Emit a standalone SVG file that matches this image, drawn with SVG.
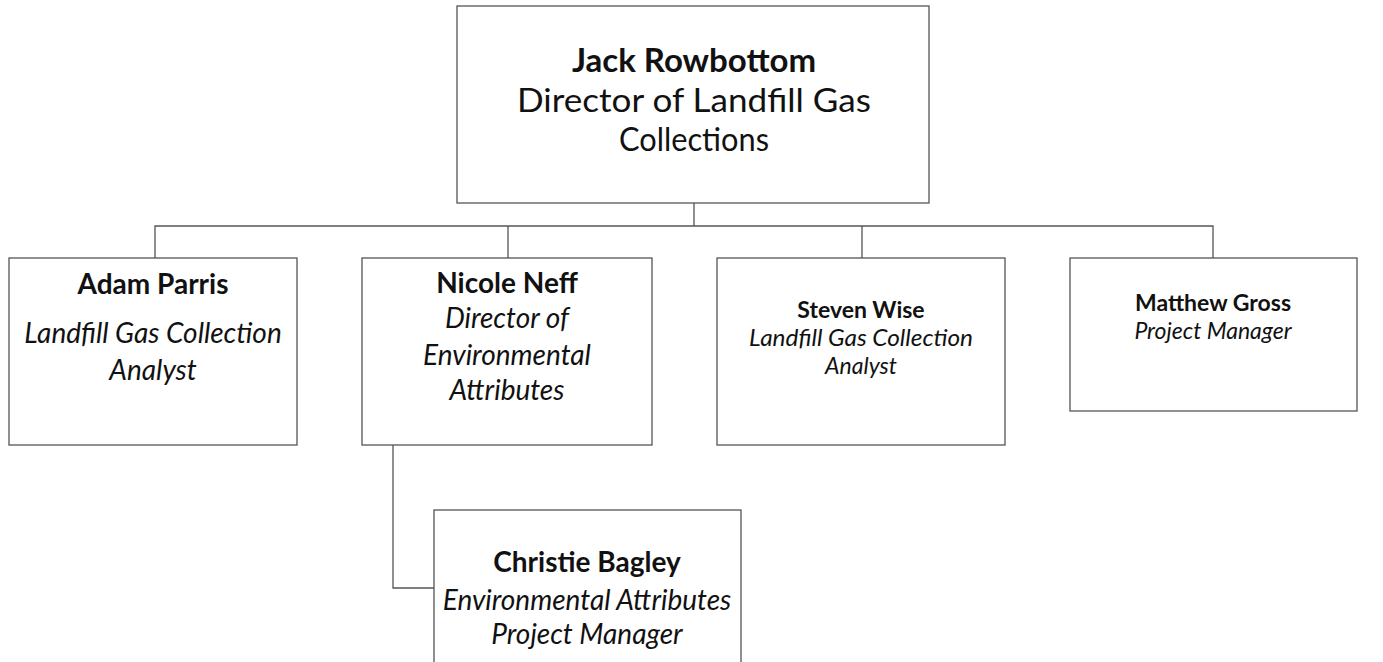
<svg xmlns="http://www.w3.org/2000/svg" width="1383" height="662" viewBox="0 0 1383 662">
<style>
.box{fill:#fff;stroke:#555;stroke-width:1.3}
.conn{fill:none;stroke:#555;stroke-width:1.3}
text{font-family:Lato,"Open Sans","Liberation Sans",sans-serif;fill:#111;text-anchor:middle}
.b{font-weight:bold}
.i{font-style:italic}
.l{font-size:28px}
.s{font-size:23px}
</style>
<rect width="1383" height="662" fill="#fff"/>
<g id="connectors">
<path class="conn" d="M694,203 V226 M155,258 V226 H1213 V258 M508,226 V258 M862,226 V258"/>
<path class="conn" d="M393,445 V588 H434"/>
</g>
<g id="jack">
<rect class="box" x="457" y="6" width="472" height="197"/>
<text x="694" y="72" class="b" font-size="33">Jack Rowbottom</text>
<text x="694" y="112" font-size="33" textLength="354" lengthAdjust="spacingAndGlyphs">Director of Landfill Gas</text>
<text x="694" y="151" font-size="33" textLength="150" lengthAdjust="spacingAndGlyphs">Collections</text>
</g>
<g id="adam">
<rect class="box" x="9" y="258" width="288" height="187"/>
<text x="153" y="294" class="b l">Adam Parris</text>
<text x="153" y="343" class="i l">Landfill Gas Collection</text>
<text x="153" y="380" class="i l">Analyst</text>
</g>
<g id="nicole">
<rect class="box" x="362" y="258" width="290" height="187"/>
<text x="507" y="293" class="b l">Nicole Neff</text>
<text x="507" y="328" class="i l">Director of</text>
<text x="507" y="365" class="i l">Environmental</text>
<text x="507" y="400" class="i l">Attributes</text>
</g>
<g id="steven">
<rect class="box" x="717" y="258" width="288" height="187"/>
<text x="861" y="318" class="b s">Steven Wise</text>
<text x="861" y="346" class="i s" textLength="224" lengthAdjust="spacingAndGlyphs">Landfill Gas Collection</text>
<text x="861" y="374" class="i s">Analyst</text>
</g>
<g id="matthew">
<rect class="box" x="1070" y="258" width="287" height="153"/>
<text x="1213" y="311" class="b s">Matthew Gross</text>
<text x="1213" y="339" class="i s">Project Manager</text>
</g>
<g id="christie">
<rect class="box" x="434" y="510" width="307" height="160"/>
<text x="587" y="572" class="b l">Christie Bagley</text>
<text x="587" y="610" class="i l">Environmental Attributes</text>
<text x="587" y="644" class="i l">Project Manager</text>
</g>
</svg>
